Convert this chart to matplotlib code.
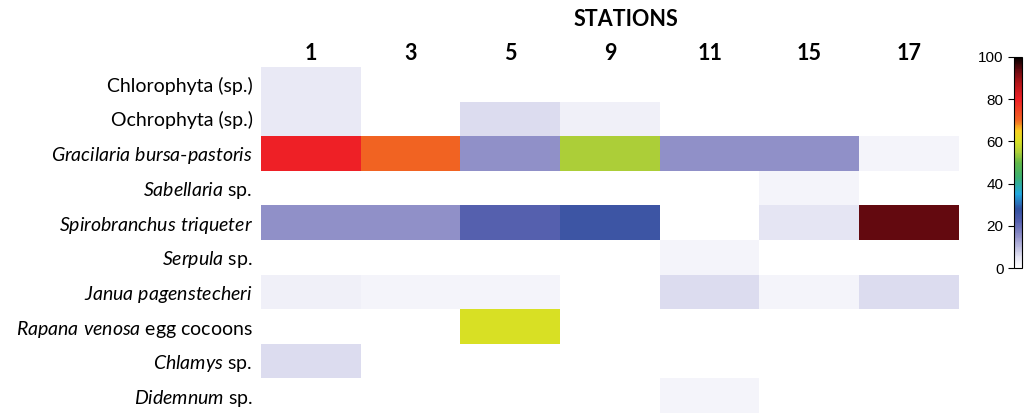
import matplotlib
matplotlib.use("Agg")
import matplotlib.pyplot as plt
import numpy as np
from matplotlib.colors import LinearSegmentedColormap

stations = ["1", "3", "5", "9", "11", "15", "17"]
taxa = [
    r"Chlorophyta (sp.)",
    r"Ochrophyta (sp.)",
    r"$\mathit{Gracilaria\ bursa\text{-}pastoris}$",
    r"$\mathit{Sabellaria}$ sp.",
    r"$\mathit{Spirobranchus\ triqueter}$ ",
    r"$\mathit{Serpula}$ sp.",
    r"$\mathit{Janua\ pagenstecheri}$",
    r"$\mathit{Rapana\ venosa}$ egg cocoons",
    r"$\mathit{Chlamys}$ sp.",
    r"$\mathit{Didemnum}$ sp.",
]
chlorophyta   = [4, 0, 0, 0, 0, 0, 0]
ochrophyta    = [4, 0, 6, 3, 0, 0, 0]
gracilaria    = [80, 70, 15, 55, 15, 15, 2]
sabellaria    = [0, 0, 0, 0, 0, 2, 0]
spirobranchus = [15, 15, 22, 26, 0, 5, 94]
serpula       = [0, 0, 0, 0, 2, 0, 0]
janua         = [3, 2, 2, 0, 6, 2, 6]
rapana        = [0, 0, 60, 0, 0, 0, 0]
chlamys       = [6, 0, 0, 0, 0, 0, 0]
didemnum      = [0, 0, 0, 0, 2, 0, 0]
cbar_ticks = [0, 20, 40, 60, 80, 100]

data = np.array([chlorophyta, ochrophyta, gracilaria, sabellaria, spirobranchus,
                 serpula, janua, rapana, chlamys, didemnum], dtype=float)

plt.rcParams['font.family'] = ['Lato', 'DejaVu Sans']
plt.rcParams['mathtext.fontset'] = 'custom'
plt.rcParams['mathtext.rm'] = 'Lato'
plt.rcParams['mathtext.it'] = 'Lato:italic'
plt.rcParams['mathtext.bf'] = 'Lato:bold'

nodes = [
    (0.00, "#FFFFFF"),
    (0.05, "#E4E4F3"),
    (0.15, "#9090C8"),
    (0.22, "#5560AE"),
    (0.28, "#3050A0"),
    (0.35, "#22A8E0"),
    (0.43, "#3CB070"),
    (0.50, "#62B848"),
    (0.55, "#AECF38"),
    (0.60, "#D8E024"),
    (0.65, "#F8D020"),
    (0.70, "#F26522"),
    (0.80, "#EE2026"),
    (0.88, "#B01418"),
    (0.94, "#650A10"),
    (1.00, "#000000"),
]
cmap = LinearSegmentedColormap.from_list("abund", nodes)

fig = plt.figure(figsize=(10.24, 4.13), dpi=100)
ax = fig.add_axes([261/1024, 0.0, 698/1024, 346/413])
im = ax.imshow(data, cmap=cmap, vmin=0, vmax=100, aspect='auto',
               interpolation='nearest')
ax.set_xticks(range(len(stations)))
ax.set_xticklabels(stations, fontsize=15.5, fontweight='bold')
ax.xaxis.tick_top()
ax.set_yticks(range(len(taxa)))
ax.set_yticklabels(taxa, fontsize=14)
ax.tick_params(length=0, pad=6)
ax.tick_params(axis='x', pad=2)
for s in ax.spines.values():
    s.set_visible(False)

fig.text(626/1024, 1 - 20/413, "STATIONS", ha='center', va='center',
         fontsize=15.5, fontweight='bold')

cax = fig.add_axes([1014/1024, (413-268)/413, 8/1024, 211/413])
cb = fig.colorbar(im, cax=cax, ticks=cbar_ticks)
cb.outline.set_linewidth(0.8)
cax.yaxis.set_ticks_position('left')
cax.yaxis.set_label_position('left')
cax.tick_params(labelsize=11, length=4, width=0.8)
for t in cax.get_yticklabels():
    t.set_fontfamily(['Liberation Sans'])

fig.savefig("out.png", dpi=100)
